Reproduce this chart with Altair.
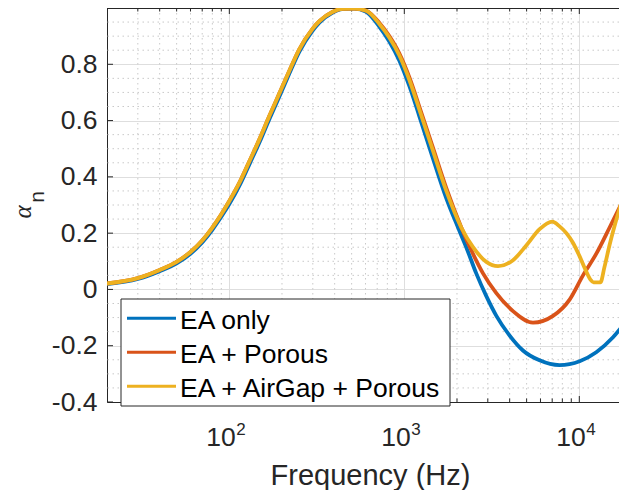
import altair as alt
import pandas as pd

# ---------------- data ----------------
series_names = ["EA only", "EA + Porous", "EA + AirGap + Porous"]
series_colors = ["#0072BD", "#D95319", "#EDB120"]

freq_ea = [20, 30, 40, 50, 60, 70, 80, 90, 100, 115, 131, 149, 169, 193, 220, 251,
           298, 327, 388, 442, 518, 606, 719, 821, 936, 1068, 1218, 1445, 1738,
           2028, 2259, 2577, 2942, 3358, 4000, 4764, 5928, 7709, 10050, 12500,
           15590, 18570]
alpha_ea = [0.019, 0.037, 0.065, 0.093, 0.127, 0.167, 0.212, 0.258, 0.303, 0.372,
            0.448, 0.524, 0.604, 0.685, 0.766, 0.844, 0.918, 0.948, 0.983, 0.996,
            0.998, 0.986, 0.934, 0.881, 0.814, 0.723, 0.616, 0.473, 0.324,
            0.22, 0.15, 0.057, -0.024, -0.094, -0.164, -0.217, -0.252, -0.269,
            -0.255, -0.223, -0.170, -0.112]

freq_porous = [20, 30, 40, 50, 60, 70, 80, 90, 100, 115, 131, 149, 169, 193, 220,
               251, 298, 327, 388, 442, 518, 606, 719, 821, 936, 1068, 1218, 1445,
               1738, 2117, 2415, 2817, 3356, 4179, 5438, 7075, 8805, 10498, 12509,
               14898, 18560]
alpha_porous = [0.021, 0.040, 0.069, 0.098, 0.133, 0.174, 0.220, 0.267, 0.314,
                0.383, 0.459, 0.535, 0.615, 0.696, 0.776, 0.853, 0.925, 0.953,
                0.986, 0.997, 0.998, 0.99, 0.948, 0.90, 0.839, 0.754, 0.65, 0.511,
                0.36, 0.22, 0.139, 0.057, -0.013, -0.077, -0.118, -0.094, -0.036,
                0.05, 0.127, 0.22, 0.34]

freq_airgap = [20, 30, 40, 50, 60, 70, 80, 90, 100, 115, 131, 149, 169, 193, 220,
               251, 298, 327, 388, 442, 518, 606, 719, 821, 936, 1068, 1218, 1445,
               1738, 2117, 2470, 2942, 3431, 4179, 4977, 5932, 7010, 7686, 8436,
               9216, 10000, 10840, 11580, 12060, 13200, 13930, 14880, 15930, 17040,
               18540]
alpha_airgap = [0.021, 0.040, 0.069, 0.098, 0.133, 0.174, 0.220, 0.267, 0.314,
                0.383, 0.459, 0.535, 0.615, 0.696, 0.776, 0.853, 0.925, 0.953,
                0.986, 0.997, 0.998, 0.99, 0.944, 0.895, 0.832, 0.745, 0.64, 0.50,
                0.35, 0.22, 0.150, 0.098, 0.083, 0.104, 0.156, 0.214, 0.241, 0.225,
                0.20, 0.165, 0.12, 0.07, 0.035, 0.025, 0.025, 0.08, 0.157, 0.227,
                0.29, 0.367]

x_major = [100, 1000, 10000]
x_exponents = ["2", "3", "4"]
x_minor = [30, 40, 50, 60, 70, 80, 90,
           200, 300, 400, 500, 600, 700, 800, 900,
           2000, 3000, 4000, 5000, 6000, 7000, 8000, 9000]
y_major = [-0.4, -0.2, 0.0, 0.2, 0.4, 0.6, 0.8]
y_minor = [-0.35, -0.3, -0.25, -0.15, -0.1, -0.05, 0.05, 0.1, 0.15, 0.25, 0.3,
           0.35, 0.45, 0.5, 0.55, 0.65, 0.7, 0.75, 0.85, 0.9, 0.95]

# ---------------- styling ----------------
W, H = 512, 394
AX = "#262626"
FONT = "Liberation Sans"

# the reference figure is cropped at its right edge; keep 175 px per decade
xscale = alt.Scale(type="log", domain=[20, 16860], nice=False)
yscale = alt.Scale(domain=[-0.4, 1.0], nice=False, zero=False)

xaxis = alt.Axis(values=x_major, labels=False, ticks=False, tickSize=0,
                 grid=True, gridColor="#dedede", gridWidth=1,
                 domain=True, domainColor=AX, domainWidth=1,
                 title="Frequency (Hz)", titleFont=FONT, titleFontSize=29,
                 titleFontWeight="normal", titleColor=AX, titleX=263,
                 titleY=82, titleBaseline="alphabetic", titleAlign="center")
yaxis = alt.Axis(values=y_major, ticks=False, tickSize=0, labelPadding=10,
                 labelFont=FONT, labelFontSize=26.5, labelColor=AX,
                 labelExpr="datum.value < 0 ? '-' + format(-datum.value, '.1f') : (datum.value == 0 ? '0' : format(datum.value, '.1f'))",
                 grid=True, gridColor="#dedede", gridWidth=1,
                 domain=True, domainColor=AX, domainWidth=1, title=None)


def X(field):
    return alt.X(field, type="quantitative", scale=xscale, axis=xaxis)


def Y(field):
    return alt.Y(field, type="quantitative", scale=yscale, axis=yaxis)


color_enc = alt.Color("series:N", scale=alt.Scale(domain=series_names, range=series_colors),
                      legend=None)

df_xminor = pd.DataFrame({"fx": x_minor})
df_xmajor = pd.DataFrame({"fx": x_major, "exp": x_exponents})
df_yminor = pd.DataFrame({"vy": y_minor})
df_ymajor = pd.DataFrame({"vy": y_major})

layers = []

# minor dotted grid
layers.append(alt.Chart(df_xminor).mark_rule(color="#c9c9c9", strokeWidth=1,
                                             strokeDash=[1.5, 3.5]).encode(x=X("fx")))
layers.append(alt.Chart(df_yminor).mark_rule(color="#c9c9c9", strokeWidth=1,
                                             strokeDash=[1.5, 3.5]).encode(y=Y("vy")))

# top border of the box
layers.append(alt.Chart(df_xmajor).mark_rule(color=AX, strokeWidth=1).encode(
    x=alt.value(0), x2=alt.value(W), y=alt.value(0.5)))

# inward ticks (bottom and top), major and minor
layers.append(alt.Chart(df_xmajor).mark_rule(color=AX, strokeWidth=1).encode(
    x=X("fx"), y=alt.value(H), y2=alt.value(H - 6)))
layers.append(alt.Chart(df_xmajor).mark_rule(color=AX, strokeWidth=1).encode(
    x=X("fx"), y=alt.value(0), y2=alt.value(6)))
layers.append(alt.Chart(df_xminor).mark_rule(color=AX, strokeWidth=1).encode(
    x=X("fx"), y=alt.value(H), y2=alt.value(H - 3.5)))
layers.append(alt.Chart(df_xminor).mark_rule(color=AX, strokeWidth=1).encode(
    x=X("fx"), y=alt.value(0), y2=alt.value(3.5)))
layers.append(alt.Chart(df_ymajor).mark_rule(color=AX, strokeWidth=1).encode(
    y=Y("vy"), x=alt.value(0), x2=alt.value(6)))

# curves
curve_data = [(freq_ea, alpha_ea), (freq_porous, alpha_porous), (freq_airgap, alpha_airgap)]
for name, (fs, vals) in zip(series_names, curve_data):
    df = pd.DataFrame({"freq": fs, "alpha": vals, "series": name})
    layers.append(alt.Chart(df).mark_line(strokeWidth=3.8, interpolate="monotone",
                                          clip=True).encode(
        x=X("freq"), y=Y("alpha"), color=color_enc))

# x tick labels 10^n
layers.append(alt.Chart(df_xmajor).mark_text(text="10", align="right", baseline="alphabetic",
                                             font=FONT, fontSize=26.5, color=AX, dx=6.5).encode(
    x=X("fx"), y=alt.value(438)))
layers.append(alt.Chart(df_xmajor).mark_text(align="left", baseline="alphabetic",
                                             font=FONT, fontSize=17, color=AX, dx=7).encode(
    x=X("fx"), y=alt.value(427), text="exp:N"))

# y title alpha_n
df_one = pd.DataFrame({"k": [0]})
layers.append(alt.Chart(df_one).mark_text(text="α", angle=270, align="center",
                                          baseline="alphabetic", font="Liberation Serif",
                                          fontStyle="italic", fontSize=25, color=AX).encode(
    x=alt.value(-76), y=alt.value(204)))
layers.append(alt.Chart(df_one).mark_text(text="n", angle=270, align="center",
                                          baseline="alphabetic", font=FONT,
                                          fontSize=21, color=AX).encode(
    x=alt.value(-63), y=alt.value(189)))

# legend box
layers.append(alt.Chart(df_one).mark_rect(fill="white", stroke=AX, strokeWidth=1).encode(
    x=alt.value(14), x2=alt.value(343), y=alt.value(291), y2=alt.value(398)))
for i, name in enumerate(series_names):
    dfl = pd.DataFrame({"series": [name]})
    layers.append(alt.Chart(dfl).mark_rule(strokeWidth=3).encode(
        x=alt.value(20), x2=alt.value(69), y=alt.value(310.3 + 34 * i), color=color_enc))
    layers.append(alt.Chart(dfl).mark_text(align="left", baseline="alphabetic", font=FONT,
                                           fontSize=26.5, color="black").encode(
        x=alt.value(73), y=alt.value(321.3 + 34 * i), text="series:N"))

chart = alt.layer(*layers).properties(
    width=W, height=H,
    autosize=alt.AutoSizeParams(type="none"),
    padding={"left": 99, "top": 0, "right": 0, "bottom": 88},
    background="white",
).configure_view(stroke=None)

chart.save("out.html", embed_options={"renderer": "svg", "actions": False})
